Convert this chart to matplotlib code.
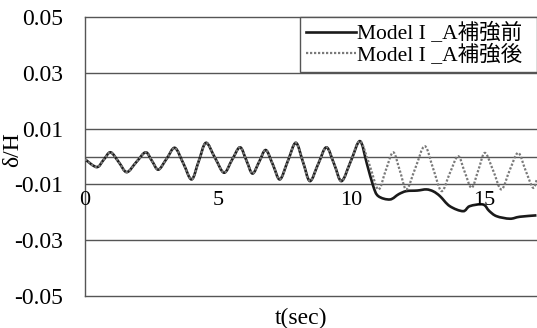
import matplotlib
matplotlib.use("Agg")
import matplotlib.pyplot as plt
from matplotlib.path import Path
from matplotlib.patches import PathPatch

# shared response up to ~10.3 s (both models overlap)
t_common = [0.00, 0.44, 0.70, 0.96, 1.27, 1.57, 1.93, 2.28, 2.52, 2.76, 3.07, 3.38,
            3.70, 4.01, 4.28, 4.55, 4.89, 5.23, 5.53, 5.83, 6.07, 6.30, 6.55, 6.80,
            7.07, 7.33, 7.63, 7.93, 8.20, 8.46, 8.77, 9.08, 9.37, 9.65, 10.00, 10.34]
d_common = [-0.0010, -0.0038, -0.0012, 0.0015, -0.0020, -0.0056, -0.0020, 0.0015,
            -0.0016, -0.0047, -0.0008, 0.0031, -0.0025, -0.0082, -0.0016, 0.0049,
            -0.0005, -0.0058, -0.0012, 0.0033, -0.0014, -0.0061, -0.0019, 0.0023,
            -0.0030, -0.0082, -0.0016, 0.0049, -0.0020, -0.0088, -0.0027, 0.0033,
            -0.0027, -0.0088, -0.0016, 0.0055]

# before reinforcement: drifts after 10 s
t_before = [10.60, 10.84, 11.03, 11.47, 11.80, 12.09, 12.50, 12.84, 13.10, 13.35,
            13.72, 14.22, 14.47, 14.97, 15.20, 15.48, 15.98, 16.35, 16.98]
d_before = [-0.0025, -0.0106, -0.0142, -0.0154, -0.0135, -0.0124, -0.0122, -0.0118,
            -0.0125, -0.0142, -0.0178, -0.0196, -0.0178, -0.0172, -0.0195, -0.0214,
            -0.0223, -0.0216, -0.0211]

# after reinforcement: keeps oscillating
t_after = [10.70, 11.03, 11.31, 11.59, 11.84, 12.09, 12.43, 12.78, 13.10, 13.41,
           13.72, 14.03, 14.28, 14.54, 14.79, 15.04, 15.35, 15.66, 15.97, 16.29,
           16.57, 16.85, 17.00]
d_after = [-0.0030, -0.0118, -0.0050, 0.0015, -0.0050, -0.0118, -0.0040, 0.0037,
           -0.0045, -0.0124, -0.0060, 0.0001, -0.0055, -0.0112, -0.0050, 0.0013,
           -0.0050, -0.0118, -0.0050, 0.0013, -0.0050, -0.0112, -0.0080]

yticks = [0.05, 0.03, 0.01, -0.01, -0.03, -0.05]
xticks = [0, 5, 10, 15]
labels = ["Model I _A補強前", "Model I _A補強後"]

plt.rcParams["font.family"] = ["Liberation Serif", "Noto Sans CJK JP"]


def smooth_path(ts, ds):
    # Catmull-Rom through the read points, drawn as cubic Bezier segments
    pts = list(zip(ts, ds))
    verts = [pts[0]]
    codes = [Path.MOVETO]
    n = len(pts)
    for i in range(n - 1):
        p0 = pts[max(i - 1, 0)]
        p1 = pts[i]
        p2 = pts[i + 1]
        p3 = pts[min(i + 2, n - 1)]
        c1 = (p1[0] + (p2[0] - p0[0]) / 6, p1[1] + (p2[1] - p0[1]) / 6)
        c2 = (p2[0] - (p3[0] - p1[0]) / 6, p2[1] - (p3[1] - p1[1]) / 6)
        verts += [c1, c2, p2]
        codes += [Path.CURVE4] * 3
    return Path(verts, codes)


fig = plt.figure(figsize=(5.37, 3.28), dpi=100)
ax = fig.add_axes([85 / 537, 1 - 296 / 328, 1 - 85 / 537, (296 - 17) / 328])

style_before = dict(color="#1a1a1a", lw=1.9)
style_after = dict(color="#7a7a7a", lw=1.6, ls=(0, (1, 0.8)))

ax.add_patch(PathPatch(smooth_path(t_common + t_before, d_common + d_before),
                       fill=False, zorder=3, **style_before))
ax.add_patch(PathPatch(smooth_path(t_common + t_after, d_common + d_after),
                       fill=False, zorder=4, **style_after))
h1, = ax.plot([], [], label=labels[0], **style_before)
h2, = ax.plot([], [], label=labels[1], **style_after)

ax.set_xlim(0, 17.0)
ax.set_ylim(-0.05, 0.05)
for y in yticks[1:-1]:
    ax.axhline(y, color="#555555", lw=1.0, zorder=1)
ax.axhline(0, color="#555555", lw=1.0, zorder=1)

ax.set_yticks(yticks)
ax.set_yticklabels([f"{v:.2f}" for v in yticks])
ax.tick_params(axis="y", length=0, pad=16, labelsize=17)
ax.set_xticks([])
for x in xticks:
    ax.text(x, -0.0158, str(x), ha="center", va="center", fontsize=16)

for s in ["left", "top", "bottom"]:
    ax.spines[s].set_color("#555555")
    ax.spines[s].set_linewidth(1.0)
ax.spines["right"].set_visible(False)

fig.text(13 / 537, 1 - 150 / 328, "δ/H", rotation=90, ha="center", va="center",
         fontsize=17)
fig.text(301 / 537, 1 - 318 / 328, "t(sec)", ha="center", va="center", fontsize=17)

leg = ax.legend(handles=[h1, h2], loc="upper left",
                bbox_to_anchor=(300 / 537, 1 - 17 / 328, 1 - 300 / 537, 0),
                bbox_transform=fig.transFigure, mode="expand", borderaxespad=0,
                fontsize=15.5, handlelength=2.3, handletextpad=0.05, labelspacing=0.0,
                borderpad=0.3, fancybox=False, framealpha=1, edgecolor="#555555")
leg.get_frame().set_linewidth(1.0)

fig.savefig("out.png", dpi=100)
